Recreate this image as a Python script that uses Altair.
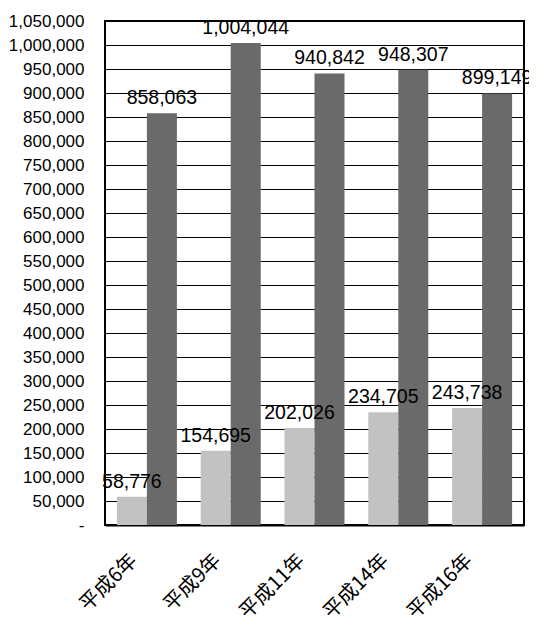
import altair as alt
import pandas as pd

categories = ["平成6年", "平成9年", "平成11年", "平成14年", "平成16年"]
series_names = ["A", "B"]
values_a = [58776, 154695, 202026, 234705, 243738]
values_b = [858063, 1004044, 940842, 948307, 899149]
y_ticks = list(range(0, 1050001, 50000))

rows = []
for c, a, b in zip(categories, values_a, values_b):
    rows.append({"cat": c, "series": series_names[0], "value": a})
    rows.append({"cat": c, "series": series_names[1], "value": b})
df = pd.DataFrame(rows)

x_enc = alt.X(
    "cat:N",
    sort=categories,
    scale=alt.Scale(paddingInner=0.284, paddingOuter=0.142),
    axis=alt.Axis(
        title=None,
        labelAngle=315,
        labelAlign="right",
        labelBaseline="middle",
        labelFont="Noto Sans CJK JP",
        labelFontSize=20,
        labelColor="black",
        labelPadding=32,
        labelOffset=-13,
        labelOverlap=False,
        labelBound=False,
        ticks=False,
        domainColor="black",
        domainWidth=2,
        grid=False,
    ),
)
xoff = alt.XOffset("series:N", sort=series_names, scale=alt.Scale(paddingInner=0, paddingOuter=0))
y_enc = alt.Y(
    "value:Q",
    scale=alt.Scale(domain=[0, 1050000], nice=False),
    axis=alt.Axis(
        title=None,
        values=y_ticks,
        labelExpr="datum.value == 0 ? '-' : format(datum.value, ',')",
        labelFont="Liberation Sans",
        labelFontSize=17,
        labelColor="black",
        labelPadding=21,
        labelOverlap=False,
        ticks=False,
        domain=False,
        grid=True,
        gridColor="black",
        gridWidth=1,
        gridOpacity=1,
    ),
)

base = alt.Chart(df).encode(x=x_enc, xOffset=xoff, y=y_enc)
bars = base.mark_bar(size=30).encode(
    color=alt.Color(
        "series:N",
        scale=alt.Scale(domain=series_names, range=["#c2c2c2", "#6a6a6a"]),
        legend=None,
    ),
)
labels = base.mark_text(
    font="Liberation Sans",
    fontSize=19.5,
    baseline="alphabetic",
    dy=-9,
    color="black",
).encode(
    text=alt.Text("value:Q", format=","),
)

chart = (
    alt.layer(bars, labels)
    .properties(
        width=419,
        height=504,
        autosize=alt.AutoSizeParams(type="none"),
        padding={"left": 97, "top": 13, "right": 5, "bottom": 94},
        background="white",
    )
    .configure_view(stroke="black", strokeWidth=2)
)

chart.save("out.html", embed_options={"renderer": "svg", "actions": False})
